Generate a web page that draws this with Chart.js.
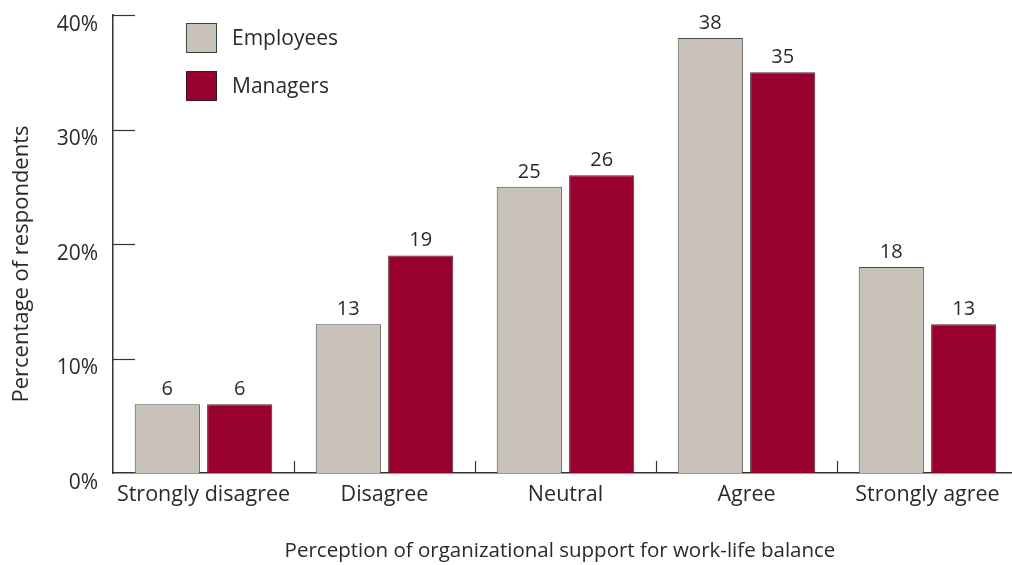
<!DOCTYPE html>
<html>
<head>
<meta charset="utf-8">
<script src="https://cdn.jsdelivr.net/npm/chart.js@4.4.1/dist/chart.umd.min.js"></script>
<style>
  html, body { margin: 0; padding: 0; background: #fff; overflow: hidden; }
  canvas { display: block; }
</style>
</head>
<body>
<canvas id="chart" width="1020" height="565"></canvas>
<script>
const categories = ['Strongly disagree', 'Disagree', 'Neutral', 'Agree', 'Strongly agree'];
const employees = [6, 13, 25, 38, 18];
const managers = [6, 19, 26, 35, 13];
const yTicks = [0, 10, 20, 30, 40];

const FONT = '"Open Sans", "Noto Sans", sans-serif';
const INK = '#2a2a2a';
const AXIS = '#333333';

// axis ticks pointing into the plot, value labels, legend and axis titles
const decorations = {
    id: 'decorations',
    afterDatasetsDraw(chart) {
        const ctx = chart.ctx;
        const x = chart.scales.x;
        const y = chart.scales.y;
        const area = chart.chartArea;
        ctx.save();

        // inward y ticks
        ctx.strokeStyle = AXIS;
        ctx.lineWidth = 1.2;
        yTicks.slice(1).forEach(v => {
            const py = Math.round(y.getPixelForValue(v)) + 0.5;
            ctx.beginPath();
            ctx.moveTo(area.left, py);
            ctx.lineTo(area.left + 22, py);
            ctx.stroke();
        });

        // short upward ticks between categories
        for (let i = 1; i < categories.length; i++) {
            const px = Math.round((x.getPixelForValue(i - 1) + x.getPixelForValue(i)) / 2) + 0.5;
            ctx.beginPath();
            ctx.moveTo(px, area.bottom);
            ctx.lineTo(px, area.bottom - 12);
            ctx.stroke();
        }

        // value labels
        ctx.fillStyle = INK;
        ctx.font = '20px ' + FONT;
        ctx.textAlign = 'center';
        ctx.textBaseline = 'alphabetic';
        chart.data.datasets.forEach((ds, di) => {
            chart.getDatasetMeta(di).data.forEach((bar, i) => {
                ctx.fillText(String(ds.data[i]), bar.x, bar.y - 9);
            });
        });

        // legend
        ctx.textAlign = 'left';
        ctx.textBaseline = 'middle';
        ctx.font = '21px ' + FONT;
        chart.data.datasets.forEach((ds, di) => {
            const top = 23 + di * 48;
            ctx.fillStyle = ds.backgroundColor;
            ctx.fillRect(186, top, 31, 30);
            ctx.strokeStyle = ds.legendBorder;
            ctx.lineWidth = 1;
            ctx.strokeRect(186.5, top + 0.5, 30, 29);
            ctx.fillStyle = INK;
            ctx.fillText(ds.label, 232, top + 16);
        });

        // axis titles
        ctx.font = '20.5px ' + FONT;
        ctx.textAlign = 'center';
        ctx.fillText('Perception of organizational support for work-life balance', 560, 551);
        ctx.font = '22px ' + FONT;
        ctx.translate(22, 264);
        ctx.rotate(-Math.PI / 2);
        ctx.fillText('Percentage of respondents', 0, 0);
        ctx.restore();
    }
};

new Chart(document.getElementById('chart').getContext('2d'), {
    type: 'bar',
    data: {
        labels: categories,
        datasets: [
            {
                label: 'Employees',
                data: employees,
                backgroundColor: '#c9c2b8',
                borderColor: '#4a4a4a',
                legendBorder: '#2f4a36',
                borderWidth: 1,
                categoryPercentage: 0.8,
                barPercentage: 0.9
            },
            {
                label: 'Managers',
                data: managers,
                backgroundColor: '#98002e',
                borderColor: '#4a2a30',
                legendBorder: '#3a1a20',
                borderWidth: 1,
                categoryPercentage: 0.8,
                barPercentage: 0.9
            }
        ]
    },
    options: {
        responsive: false,
        animation: false,
        layout: { padding: { top: 15, right: 2, bottom: 0, left: 0 } },
        plugins: {
            legend: { display: false },
            tooltip: { enabled: false }
        },
        scales: {
            x: {
                afterFit: scale => {
                    scale.height = 92;
                    scale.paddingLeft = 0;
                    scale.paddingRight = 0;
                },
                grid: { display: false, drawTicks: false },
                border: { display: true, color: AXIS, width: 1.5 },
                ticks: {
                    color: INK,
                    padding: 9,
                    maxRotation: 0,
                    font: { family: FONT, size: 21.5 }
                }
            },
            y: {
                min: 0,
                max: 40,
                afterFit: scale => {
                    scale.width = 113;
                    scale.paddingTop = 0;
                    scale.paddingBottom = 0;
                },
                afterBuildTicks: scale => {
                    scale.ticks = yTicks.map(v => ({ value: v }));
                },
                grid: { display: false, drawTicks: false },
                border: { display: true, color: AXIS, width: 1.5 },
                ticks: {
                    color: INK,
                    padding: 15,
                    labelOffset: 10,
                    font: { family: FONT, size: 21 },
                    callback: v => v + '%'
                }
            }
        }
    },
    plugins: [decorations]
});
</script>
</body>
</html>
